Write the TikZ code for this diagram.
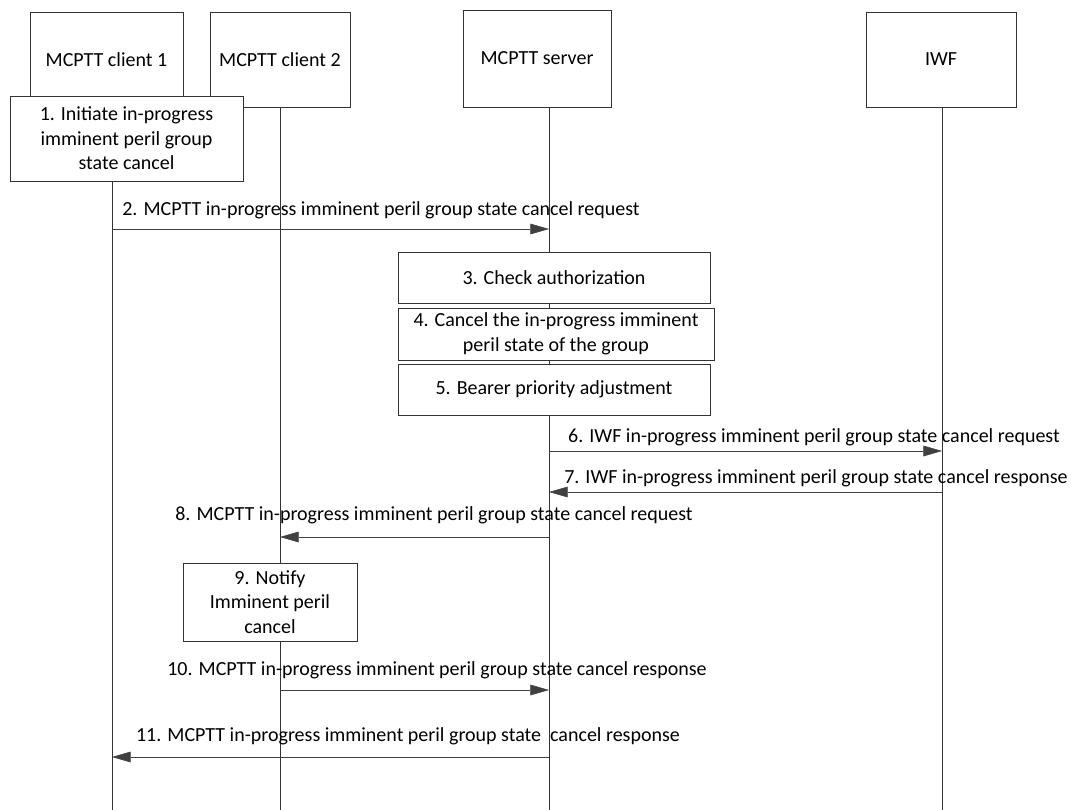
\documentclass[tikz,border=0pt]{standalone}
\usepackage{fontspec}
\setmainfont{Carlito}
\usetikzlibrary{arrows.meta}

\begin{document}
\begin{tikzpicture}[x=0.75pt,y=-0.75pt,>={Triangle[length=14pt,width=8pt]},
  every node/.style={font=\fontsize{15}{18.4}\selectfont},
  entity/.style={draw=black!80,fill=white,align=center,inner sep=0pt},
  action/.style={draw=black!80,fill=white,align=center,inner sep=0pt},
  msg/.style={draw=black!75,->}]
  \useasboundingbox (0,0) rectangle (1071,810);
  % lifelines
  \coordinate (c1top) at (112,107);
  \coordinate (c2top) at (280,107);
  \coordinate (srvtop) at (549,107);
  \coordinate (iwftop) at (942,107);
  \coordinate (c1bot) at (112,810);
  \coordinate (c2bot) at (280,810);
  \coordinate (srvbot) at (549,810);
  \coordinate (iwfbot) at (942,810);
  \draw[black!80] (c1top) -- (c1bot);
  \draw[black!80] (c2top) -- (c2bot);
  \draw[black!80] (srvtop) -- (srvbot);
  \draw[black!80] (iwftop) -- (iwfbot);
  % entities
  \node[entity,minimum width=153*0.75pt,minimum height=95*0.75pt] (c1) at (106.5,59.5) {MCPTT client 1};
  \node[entity,minimum width=140*0.75pt,minimum height=95*0.75pt] (c2) at (280,59.5) {MCPTT client 2};
  \node[entity,minimum width=148*0.75pt,minimum height=97*0.75pt] (srv) at (537,58.5) {MCPTT server};
  \node[entity,minimum width=150*0.75pt,minimum height=95*0.75pt] (iwf) at (941,59.5) {IWF};
  % actions
  \node[action,minimum width=233*0.75pt,minimum height=85*0.75pt] (a1) at (126.5,138.5)
    {1. Initiate in-progress\\imminent peril group\\state cancel};
  \node[action,minimum width=312*0.75pt,minimum height=51*0.75pt] (a3) at (554,277.5)
    {3. Check authorization};
  \node[action,minimum width=316*0.75pt,minimum height=52*0.75pt] (a4) at (556,334)
    {4. Cancel the in-progress imminent\\peril state of the group};
  \node[action,minimum width=312*0.75pt,minimum height=51*0.75pt] (a5) at (554,389.5)
    {5. Bearer priority adjustment};
  \node[action,minimum width=174*0.75pt,minimum height=78*0.75pt] (a9) at (270,602)
    {9. Notify\\Imminent peril\\cancel};
  % messages
  \draw[msg] (c1top |- 0,229) -- (srvtop |- 0,229);
  \node (m2) at (381,210) {2. MCPTT in-progress imminent peril group state cancel request};
  \draw[msg] (srvtop |- 0,451) -- (iwftop |- 0,451);
  \node (m6) at (814,437) {6. IWF in-progress imminent peril group state cancel request};
  \draw[msg] (iwftop |- 0,492) -- (srvtop |- 0,492);
  \node (m7) at (816,478) {7. IWF in-progress imminent peril group state cancel response};
  \draw[msg] (srvtop |- 0,537) -- (c2top |- 0,537);
  \node (m8) at (434,515) {8. MCPTT in-progress imminent peril group state cancel request};
  \draw[msg] (c2top |- 0,690) -- (srvtop |- 0,690);
  \node (m10) at (437,670) {10. MCPTT in-progress imminent peril group state cancel response};
  \draw[msg] (srvtop |- 0,757) -- (c1top |- 0,757);
  \node (m11) at (408,736) {11. MCPTT in-progress imminent peril group state\ \ cancel response};
\end{tikzpicture}
\end{document}
